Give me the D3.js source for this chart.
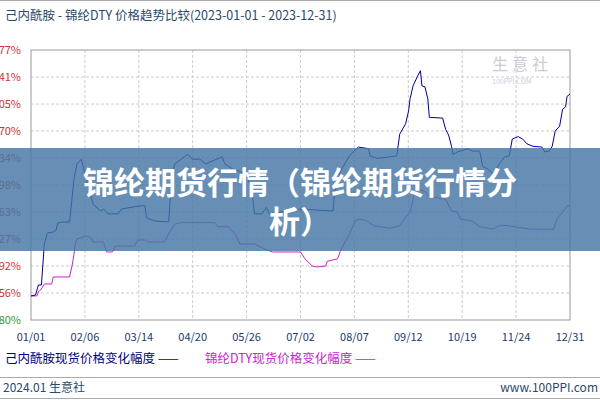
<!DOCTYPE html>
<html><head><meta charset="utf-8">
<script src="https://cdn.jsdelivr.net/npm/d3@7"></script>
<style>body{margin:0;background:#fff}svg{display:block}</style></head>
<body><svg id="c" width="600" height="400"></svg>
<script>
const xTickLabels=["01/01","02/06","03/14","04/20","05/26","07/02","08/07","09/12","10/19","11/24","12/31"];
const yTicks=[-2.80,0.56,3.92,7.27,10.63,13.98,17.34,20.70,24.05,27.41,30.77];
const blueDays=[0,3,5,7,8,9,11,15,17,18,21,26,27,29,31,34,38,42,47,49,52,59,61,74,77,78,84,93,94,95,97,106,109,114,118,129,131,136,145,149,151,156,159,161,182,204,205,209,215,221,228,229,234,247,249,253,255,256,258,261,263,264,266,268,269,278,280,282,284,285,288,295,298,303,305,308,312,317,320,323,325,329,332,335,339,345,347,350,352,354,357,359,361,362,364];
const blueVals=[0.19,0.31,1.55,1.55,4.03,6.65,8.02,8.14,8.39,9.26,9.38,9.38,11.0,14.7,16.6,17.2,14.1,11.6,10.75,11.0,10.4,10.4,11.0,11.4,11.4,9.9,9.5,9.4,12.2,14.7,16.6,17.8,17.2,17.2,16.6,17.5,16.6,16.0,15.4,13.5,10.4,10.4,11.2,10.4,11.0,10.75,13.1,15.7,17.6,18.7,18.5,17.6,17.3,17.6,20.3,21.6,23.2,24.7,26.3,27.5,28.2,26.3,26.2,24.7,22.4,22.3,20.9,20.2,18.8,17.8,18.1,18.5,18.2,18.2,16.3,16.0,15.4,16.8,17.5,17.6,19.7,20.0,19.7,19.1,18.8,18.7,18.1,18.2,18.8,20.7,21.3,23.4,23.7,25.0,25.3];
const purpleDays=[0,4,5,7,9,14,15,26,28,29,30,31,37,40,42,49,51,55,57,70,72,77,79,90,93,95,97,101,124,126,133,138,141,151,158,163,182,185,190,193,199,200,207,209,212,215,219,221,226,232,242,249,253,256,258,259,261,266,269,280,284,288,290,298,303,312,317,323,337,353,355,359,362,364];
const purpleVals=[0.19,0.19,0.68,1.06,1.68,1.68,2.55,2.55,4.16,5.4,6.65,7.27,7.64,7.52,6.9,6.9,5.66,5.66,6.4,6.4,7.15,7.15,6.9,6.9,7.9,8.5,9.1,9.3,9.3,8.8,8.8,7.9,6.65,6.65,6.0,5.66,5.66,4.8,3.9,3.8,3.9,4.5,4.8,5.8,6.9,7.9,9.5,9.75,9.6,8.9,8.6,8.9,10.0,10.6,12.2,13.1,13.5,13.2,12.6,12.2,10.75,10.6,9.75,9.5,8.8,8.5,9.0,8.9,8.5,8.5,9.75,10.6,11.4,11.4];

const svg=d3.select("#c");
const L=31,R=570,T=50,B=320;
const x=d3.scaleLinear().domain([0,364]).range([L,R]);
const y=d3.scaleLinear().domain([-2.80,30.77]).range([B,T]);
const font="SimSun,'Noto Sans CJK SC',monospace";
svg.append("line").attr("x1",0).attr("x2",600).attr("y1",0.5).attr("y2",0.5).attr("stroke","#aaa");
svg.append("text").attr("x",5).attr("y",20).attr("font-size",12.5).attr("fill","#2a4a6a").attr("font-family",font)
  .text("己内酰胺 - 锦纶DTY 价格趋势比较(2023-01-01 - 2023-12-31)");
const xt=d3.range(11).map(i=>i*36.4);
svg.append("g").selectAll("line").data(xt.slice(1,10)).join("line")
 .attr("x1",d=>x(d)).attr("x2",d=>x(d)).attr("y1",T).attr("y2",B)
 .attr("stroke","#ccc").attr("stroke-dasharray","3,2");
svg.append("g").selectAll("line").data(yTicks.slice(1,10)).join("line")
 .attr("x1",L).attr("x2",R).attr("y1",d=>y(d)).attr("y2",d=>y(d))
 .attr("stroke","#ccc").attr("stroke-dasharray","3,2");
svg.append("rect").attr("x",L).attr("y",T).attr("width",R-L).attr("height",B-T).attr("fill","none").attr("stroke","#999");
svg.append("g").selectAll("text").data(yTicks).join("text")
 .attr("x",21).attr("y",d=>y(d)+4).attr("text-anchor","end").attr("font-size",11).attr("font-family",font)
 .attr("fill",d=>d<0?"#339933":"#cc3333").text(d=>d.toFixed(2)+"%");
svg.append("g").selectAll("text").data(xt).join("text")
 .attr("x",d=>x(d)).attr("y",341).attr("text-anchor","middle").attr("font-size",11).attr("font-family",font)
 .attr("fill","#1a3a6a").text((d,i)=>xTickLabels[i]);
svg.append("text").attr("x",492).attr("y",70).attr("font-size",16).attr("fill","#c8ccd8").attr("font-family",font).attr("letter-spacing",4).text("生意社");
svg.append("text").attr("x",492).attr("y",84).attr("font-size",7).attr("fill","#ccd").attr("font-family",font).text("100PPI.COM");
const line=d3.line().x(d=>x(d[0])).y(d=>y(d[1]));
svg.append("path").datum(purpleDays.map((d,i)=>[d,purpleVals[i]])).attr("d",line).attr("fill","none").attr("stroke","#cc22cc").attr("stroke-width",1);
svg.append("path").datum(blueDays.map((d,i)=>[d,blueVals[i]])).attr("d",line).attr("fill","none").attr("stroke","#000099").attr("stroke-width",1);
svg.append("text").attr("x",5).attr("y",363).attr("font-size",12.5).attr("fill","#000080").attr("font-family",font).text("己内酰胺现货价格变化幅度 ——");
svg.append("text").attr("x",205).attr("y",363).attr("font-size",12.5).attr("fill","#cc22cc").attr("font-family",font).text("锦纶DTY现货价格变化幅度 ——");
svg.append("line").attr("x1",0).attr("x2",600).attr("y1",377.5).attr("y2",377.5).attr("stroke","#aaa");
svg.append("line").attr("x1",0).attr("x2",600).attr("y1",398.5).attr("y2",398.5).attr("stroke","#aaa");
svg.append("text").attr("x",3).attr("y",392).attr("font-size",12).attr("fill","#2a4a6a").attr("font-family",font).text("2024.01 生意社");
svg.append("text").attr("x",598).attr("y",392).attr("text-anchor","end").attr("font-size",12).attr("fill","#2a4a6a").attr("font-family",font).text("www.100PPI.com");
svg.append("rect").attr("x",0).attr("y",148).attr("width",600).attr("height",103).attr("fill","rgba(70,118,165,0.82)");
svg.append("text").attr("x",300).attr("y",194).attr("text-anchor","middle").attr("font-size",31).attr("font-weight","bold").attr("fill","#fff").attr("font-family","'Noto Sans CJK SC'").text("锦纶期货行情（锦纶期货行情分");
svg.append("text").attr("x",300).attr("y",233).attr("text-anchor","middle").attr("font-size",31).attr("font-weight","bold").attr("fill","#fff").attr("font-family","'Noto Sans CJK SC'").text("析）");
</script></body></html>
